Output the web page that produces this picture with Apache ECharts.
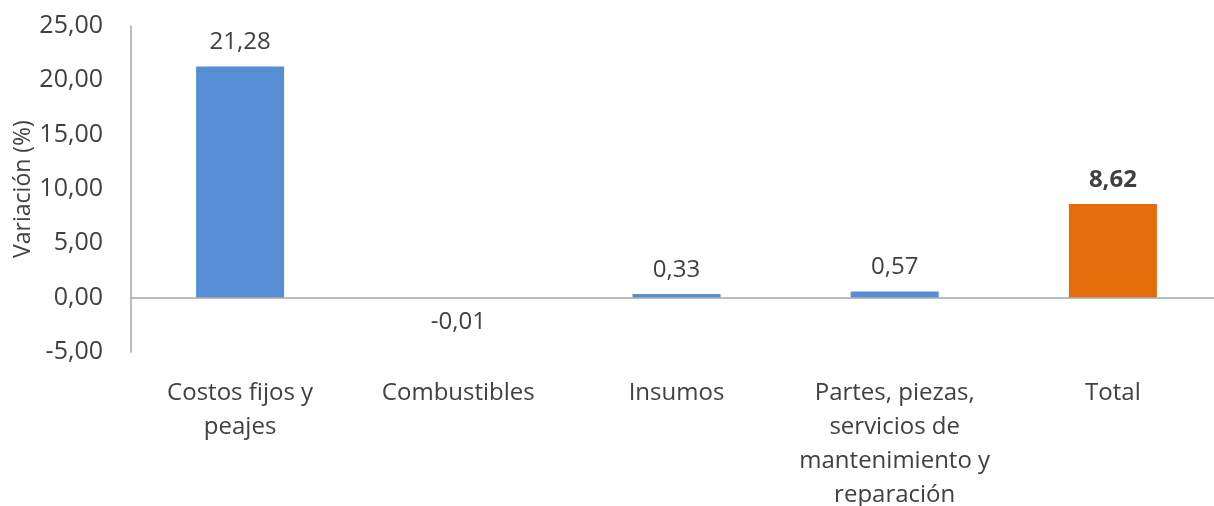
<!DOCTYPE html>
<html>
<head>
<meta charset="utf-8">
<script src="https://cdn.jsdelivr.net/npm/echarts@6/dist/echarts.min.js"></script>
<style>html,body{margin:0;padding:0;background:#fff;}#c{width:1214px;height:506px;}</style>
</head>
<body>
<div id="c"></div>
<script>
const categories = ["Costos fijos y\npeajes", "Combustibles", "Insumos", "Partes, piezas,\nservicios de\nmantenimiento y\nreparación", "Total"];
const values = [21.28, -0.01, 0.33, 0.57, 8.62];
const barColors = ["#558ED5", "#558ED5", "#558ED5", "#558ED5", "#E46C0A"];
const boldLabel = [false, false, false, false, true];

const fmt = v => v.toFixed(2).replace('.', ',');
const font = "'Open Sans', 'Noto Sans', sans-serif";
const textColor = '#404040';

const chart = echarts.init(document.getElementById('c'), null, {renderer: 'canvas'});
chart.setOption({
  animation: false,
  textStyle: {fontFamily: font},
  grid: {left: 131, right: -8, top: 26, bottom: 154, containLabel: false, outerBoundsMode: 'none'},
  xAxis: {
    type: 'category',
    data: categories,
    axisLine: {show: false},
    axisTick: {show: false},
    axisLabel: {color: textColor, fontSize: 24, fontFamily: font, lineHeight: 34, margin: 24, interval: 0}
  },
  yAxis: {
    type: 'value',
    min: -5, max: 25, interval: 5,
    name: 'Variación (%)',
    nameLocation: 'middle',
    nameGap: 96,
    nameMoveOverlap: false,
    nameTextStyle: {color: textColor, fontSize: 23, fontFamily: font},
    axisLine: {show: true, lineStyle: {color: '#a6a6a6', width: 1.5}},
    axisTick: {show: false},
    splitLine: {show: false},
    axisLabel: {color: textColor, fontSize: 25, fontFamily: font, margin: 28, formatter: v => fmt(v)}
  },
  series: [{
    type: 'bar',
    barWidth: 88,
    data: values.map((v, i) => ({
      value: v,
      itemStyle: {color: barColors[i]},
      label: {fontWeight: boldLabel[i] ? 'bold' : 'normal'}
    })),
    label: {
      show: true,
      position: 'outside',
      distance: 12,
      color: textColor,
      fontSize: 24,
      fontFamily: font,
      formatter: p => fmt(p.value)
    },
    markLine: {
      silent: true,
      symbol: 'none',
      label: {show: false},
      lineStyle: {color: '#a6a6a6', type: 'solid', width: 1.5},
      data: [{yAxis: 0}]
    }
  }]
});
</script>
</body>
</html>
